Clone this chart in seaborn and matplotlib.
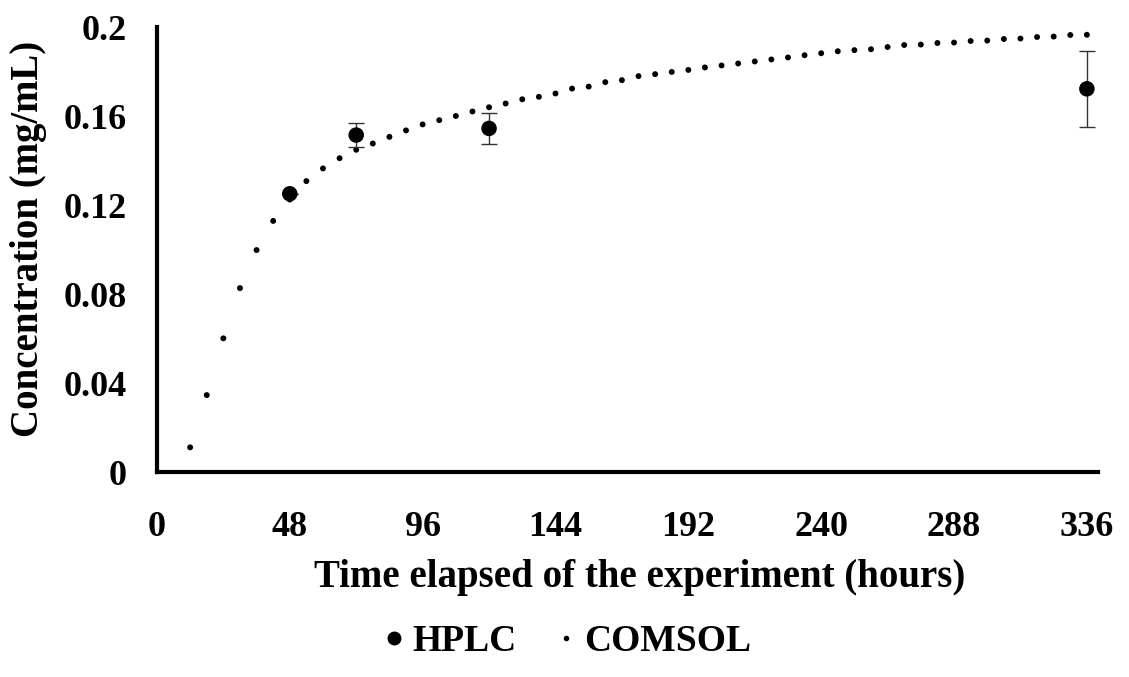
import numpy as np
import pandas as pd
import matplotlib
matplotlib.use("Agg")
import matplotlib.pyplot as plt
import seaborn as sns
from matplotlib.lines import Line2D

# HPLC measurements
hplc_time = [48, 72, 120, 336]
hplc_conc = [0.1251, 0.1515, 0.1545, 0.1723]
hplc_err = [0.0, 0.0053, 0.0070, 0.0170]

# COMSOL simulation
comsol_time = [12, 18, 24, 30, 36, 42, 48, 54, 60, 66, 72, 78, 84, 90, 96, 102, 108,
               114, 120, 126, 132, 138, 144, 150, 156, 162, 168, 174, 180, 186, 192,
               198, 204, 210, 216, 222, 228, 234, 240, 246, 252, 258, 264, 270, 276,
               282, 288, 294, 300, 306, 312, 318, 324, 330, 336]
comsol_conc = [0.0111, 0.0346, 0.0601, 0.0827, 0.0998, 0.1129, 0.1225, 0.1308, 0.1365,
               0.1411, 0.1449, 0.1477, 0.1507, 0.1536, 0.1563, 0.1582, 0.1601, 0.1621,
               0.1640, 0.1657, 0.1676, 0.1687, 0.1702, 0.1724, 0.1733, 0.1753, 0.1762,
               0.1780, 0.1789, 0.1799, 0.1808, 0.1819, 0.1828, 0.1837, 0.1846, 0.1855,
               0.1864, 0.1874, 0.1883, 0.1892, 0.1897, 0.1901, 0.1911, 0.1920, 0.1922,
               0.1929, 0.1931, 0.1938, 0.1940, 0.1947, 0.1949, 0.1956, 0.1958, 0.1965,
               0.1966]

x_ticks = [0, 48, 96, 144, 192, 240, 288, 336]
y_ticks = [0, 0.04, 0.08, 0.12, 0.16, 0.2]
y_ticklabels = ["0", "0.04", "0.08", "0.12", "0.16", "0.2"]

sns.set_style("white")
plt.rcParams["font.family"] = ["Liberation Serif", "DejaVu Serif"]
plt.rcParams["font.weight"] = "bold"
plt.rcParams["text.color"] = "black"
plt.rcParams["axes.labelcolor"] = "black"
plt.rcParams["xtick.color"] = "black"
plt.rcParams["ytick.color"] = "black"

fig = plt.figure(figsize=(11.29, 6.77), dpi=100)
ax = fig.add_axes([0.139, 0.3028, 0.8335, 0.657])

df_c = pd.DataFrame({"t": comsol_time, "c": comsol_conc})
df_h = pd.DataFrame({"t": hplc_time, "c": hplc_conc})

sns.scatterplot(data=df_c, x="t", y="c", ax=ax, s=18, color="black",
                edgecolor="none", zorder=3, clip_on=False)
ax.errorbar(hplc_time, hplc_conc, yerr=hplc_err, fmt="none", ecolor="#333333",
            elinewidth=1.0, capsize=6, capthick=1.0, zorder=4, clip_on=False)
sns.scatterplot(data=df_h, x="t", y="c", ax=ax, s=125, color="black",
                edgecolor="none", zorder=5, clip_on=False)

ax.set_xlim(0, 340)
ax.set_ylim(0, 0.2)
ax.set_xticks(x_ticks)
ax.set_xticklabels([str(v) for v in x_ticks])
ax.set_yticks(y_ticks)
ax.set_yticklabels(y_ticklabels)

for side in ["top", "right"]:
    ax.spines[side].set_visible(False)
for side in ["left", "bottom"]:
    ax.spines[side].set_linewidth(3)
    ax.spines[side].set_color("black")

ax.tick_params(axis="both", direction="out", length=6, width=3, colors="black",
               labelsize=26)
ax.tick_params(axis="y", pad=16)
ax.tick_params(axis="x", pad=22)
for lab in ax.get_xticklabels() + ax.get_yticklabels():
    lab.set_fontweight("bold")
    lab.set_color("black")

ax.set_xlabel("Time elapsed of the experiment (hours)", fontsize=28,
              fontweight="bold", color="black")
ax.set_ylabel("Concentration (mg/mL)", fontsize=28, fontweight="bold", color="black")
ax.xaxis.set_label_coords(0.513, -0.195)
ax.yaxis.set_label_coords(-0.117, 0.525)

handles = [
    Line2D([], [], linestyle="none", marker="o", markersize=9, color="black"),
    Line2D([], [], linestyle="none", marker="o", markersize=3, color="black"),
]
fig.legend(handles, ["HPLC", "COMSOL"], loc="center", bbox_to_anchor=(0.499, 0.052),
           ncol=2, frameon=False, prop={"size": 27, "weight": "bold"},
           handletextpad=0.0, columnspacing=0.8, handlelength=1.0,
           labelcolor="black")

fig.savefig("out.png", dpi=100, facecolor="white")
